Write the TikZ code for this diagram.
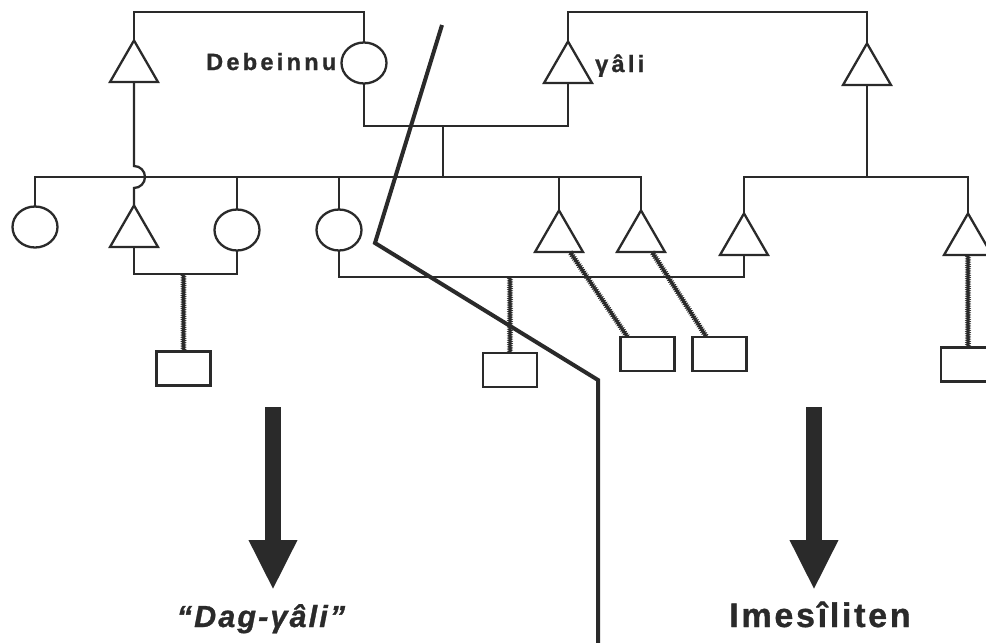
\documentclass[tikz,border=0pt]{standalone}
\usepackage{fontspec}
\setmainfont{Liberation Sans}
\usetikzlibrary{shapes.geometric,decorations.pathmorphing,calc,arrows.meta}
\definecolor{ink}{HTML}{2A2A2A}
\newfontfamily\namefamily[LetterSpace=14,FakeBold=1]{Liberation Sans}
\newfontfamily\dagfamily[LetterSpace=7,FakeBold=1]{Liberation Sans}
\newfontfamily\imesfamily[LetterSpace=8,FakeBold=1]{Liberation Sans}
\newcommand\namefont{\namefamily\bfseries\fontsize{23.5}{23.5}\selectfont}
\newcommand\dagfont{\dagfamily\bfseries\itshape\fontsize{30.5}{30.5}\selectfont}
\newcommand\imesfont{\imesfamily\bfseries\fontsize{34}{34}\selectfont}
\begin{document}
\begin{tikzpicture}[x=1pt,y=-1pt,
  male/.style={regular polygon, regular polygon sides=3, draw=ink, line width=2.3pt,
    minimum size=55.4pt, inner sep=0pt, outer sep=0pt},
  female/.style={ellipse, draw=ink, line width=2.3pt, minimum width=45pt,
    minimum height=41pt, inner sep=0pt, outer sep=0pt},
  issue/.style={rectangle, draw=ink, line width=2.3pt, minimum width=54pt,
    minimum height=34pt, inner sep=0pt, outer sep=0pt},
  kin/.style={draw=ink, line width=2.3pt},
  rope/.style={draw=ink, line width=1.7pt, decorate,
    decoration={zigzag, amplitude=1.2pt, segment length=2.2pt}},
  divide/.style={draw=ink, line width=4pt, line join=miter},
  bigarrow/.style={draw=ink, line width=16pt,
    -{Triangle[width=45pt,length=50pt]}},
  persontag/.style={font=\namefont, text=ink, inner sep=0pt},
  grouptag/.style={text=ink, inner sep=0pt}
]
\useasboundingbox (0,0) rectangle (986,643);
\fill[white] (0,0) rectangle (986,643);
\clip (0,0) rectangle (986,643);

% reference rows
\coordinate (topline) at (0,12);
\coordinate (couple) at (0,126);
\coordinate (sib) at (0,177);
\coordinate (m1) at (0,274);
\coordinate (m2) at (0,277);

% senior generation
\node[male, anchor=side 2] (ta) at (134,82) {};
\node[female] (deb) at (364,63) {};
\node[male, anchor=side 2] (gali) at (568,83) {};
\node[male, anchor=side 2] (tr) at (867,85) {};

\node[persontag, anchor=base east] (debname) at ($(deb.west)+(-5,7)$) {Debeinnu};
\node[persontag, anchor=base west] (galiname) at ($(gali.corner 3)+(3,-11)$) {γâli};

% sibling generation
\node[female] (c1) at (35,227) {};
\node[male, anchor=side 2] (t2) at (134,247) {};
\node[female] (c3) at (237,230) {};
\node[female] (c4) at (339,230) {};
\node[male, anchor=side 2] (t5) at (559,252) {};
\node[male, anchor=side 2] (t6) at (641,252) {};
\node[male, anchor=side 2] (t7) at (744,255) {};
\node[male, anchor=side 2] (t8) at (968,255) {};

% children
\node[issue] (b1) at (183.5,368.5) {};
\node[issue] (b4) at (510,370) {};
\node[issue] (b5) at (647.5,354) {};
\node[issue] (b6) at (719.5,354) {};
\node[issue] (b8) at (968,364.5) {};

% marriage and descent lines
\draw[kin] (ta.corner 1) -- (ta.corner 1 |- topline) -| (deb.north);
\draw[kin] (gali.corner 1) -- (gali.corner 1 |- topline) -| (tr.corner 1);
\draw[kin] (deb.south) -- (deb.south |- couple) -| (gali.side 2);
\coordinate (drop) at (443,126);
\draw[kin] (drop) -- (drop |- sib);

\draw[kin] (c1.north) |- (sib -| t6.corner 1) -- (t6.corner 1);
\draw[kin] (c3.north) -- (c3.north |- sib);
\draw[kin] (c4.north) -- (c4.north |- sib);
\draw[kin] (t5.corner 1) -- (t5.corner 1 |- sib);
% line hopping over the sibling bar
\draw[kin] (ta.side 2) -- ($(ta.side 2 |- sib)+(0,-11)$)
  arc[start angle=-90, end angle=90, radius=11] -- (t2.corner 1);

\draw[kin] (tr.side 2) -- (tr.side 2 |- sib);
\draw[kin] (t7.corner 1) |- (sib -| t8.corner 1) -- (t8.corner 1);

\draw[kin] (t2.side 2) -- (t2.side 2 |- m1) -| (c3.south);
\draw[kin] (c4.south) -- (c4.south |- m2) -| (t7.side 2);

\draw[rope] (b1.north |- m1) -- (b1.north);
\draw[rope] (b4.north |- m2) -- (b4.north);
\draw[rope] ($(t5.side 2)+(11,0)$) -- ($(b5.north west)+(7,0)$);
\draw[rope] ($(t6.side 2)+(11,0)$) -- ($(b6.north west)+(14,0)$);
\draw[rope] (t8.side 2) -- (b8.north);

% dividing line
\coordinate (d1) at (442,25);
\coordinate (d2) at (375,243);
\coordinate (d3) at (598,380);
\coordinate (d4) at (598,643);
\draw[divide] (d1) -- (d2) -- (d3) -- (d4);

% group labels and arrows
\node[grouptag, anchor=base, font=\dagfont] (dag) at (261,627) {“Dag-γâli”};
\node[grouptag, anchor=base, font=\imesfont] (imes) at (820,627) {Imesîliten};
\coordinate (a1) at (273,407);
\coordinate (a2) at (814,407);
\coordinate (tip1) at (273,590);
\coordinate (tip2) at (814,590);
\draw[bigarrow] (a1) -- (tip1);
\draw[bigarrow] (a2) -- (tip2);
\end{tikzpicture}
\end{document}
